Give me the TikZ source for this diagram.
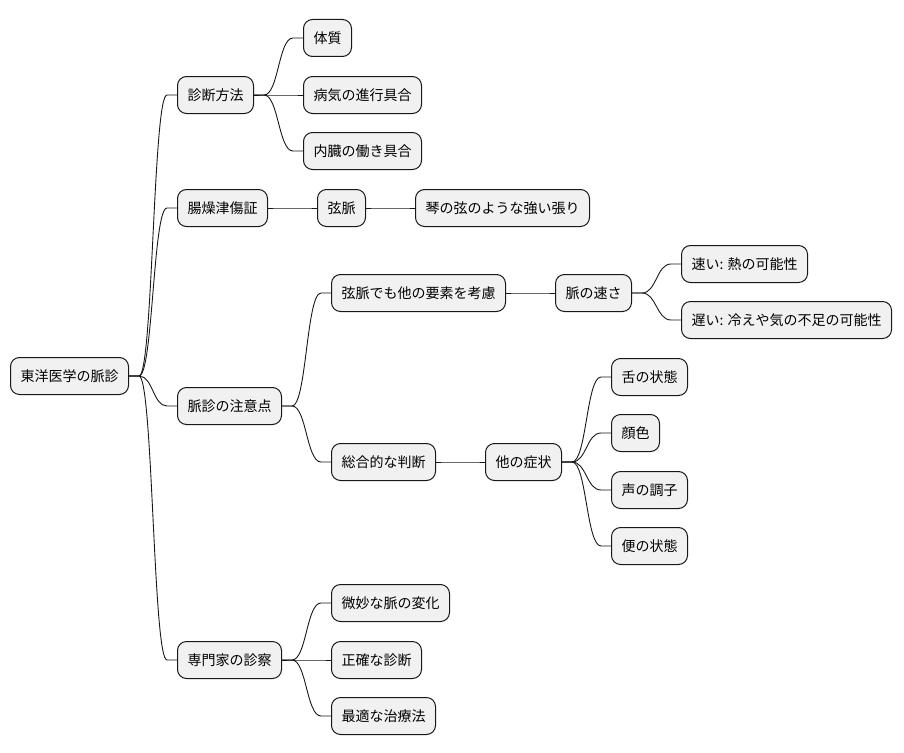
\documentclass[tikz,border=0pt]{standalone}
\usepackage{fontspec}
\setmainfont{Noto Sans CJK JP}
\usepackage{tikz}
\usetikzlibrary{calc}
\definecolor{boxFill}{HTML}{F1F1F1}
\definecolor{boxLine}{HTML}{181818}

\begin{document}
\begin{tikzpicture}[
        x=1pt, y=-1pt,
        topic/.style={draw=boxLine, fill=boxFill, line width=1pt, rounded corners=9pt,
          anchor=west, font=\fontsize{14}{16}\selectfont, inner xsep=10pt, inner ysep=0pt,
          minimum height=37pt},
        edge/.style={draw=boxLine, line width=0.9pt},
        branch/.style={to path={let \p1=(\tikztostart), \p2=(\tikztotarget) in
          .. controls ({0.5*\x1+0.5*\x2},\y1) and ({0.5*\x1+0.5*\x2},\y2) .. (\tikztotarget)}},
      ]
        \useasboundingbox (0,0) rectangle (904,752);

        % root
        \node[topic] (root) at (10,376) {東洋医学の脈診};

        % diagnosis method
        \node[topic] (shindan) at (177,95) {診断方法};
        \node[topic] (taishitsu) at (303,38) {体質};
        \node[topic] (byoki) at (303,95) {病気の進行具合};
        \node[topic] (naizo) at (303,151) {内臓の働き具合};

        % intestine dryness
        \node[topic] (chosou) at (177,208) {腸燥津傷証};
        \node[topic] (genmyaku) at (317,208) {弦脈};
        \node[topic] (koto) at (415,208) {琴の弦のような強い張り};

        % points of attention
        \node[topic] (chuui) at (177,406) {脈診の注意点};
        \node[topic] (kouryo) at (331,293) {弦脈でも他の要素を考慮};
        \node[topic] (hayasa) at (555,293) {脈の速さ};
        \node[topic] (hayai) at (681,264) {速い: 熱の可能性};
        \node[topic] (osoi) at (681,320) {遅い: 冷えや気の不足の可能性};
        \node[topic] (sougou) at (331,462) {総合的な判断};
        \node[topic] (shojo) at (485,462) {他の症状};
        \node[topic] (shita) at (611,377) {舌の状態};
        \node[topic] (ganshoku) at (611,433) {顔色};
        \node[topic] (koe) at (611,490) {声の調子};
        \node[topic] (ben) at (611,546) {便の状態};

        % specialist
        \node[topic] (senmon) at (177,660) {専門家の診察};
        \node[topic] (bimyo) at (331,603) {微妙な脈の変化};
        \node[topic] (seikaku) at (331,660) {正確な診断};
        \node[topic] (saiteki) at (331,716) {最適な治療法};

        % connectors
        \foreach \a/\b in {root/shindan, root/chosou, root/chuui, root/senmon,
            shindan/taishitsu, shindan/byoki, shindan/naizo,
            chosou/genmyaku, genmyaku/koto,
            chuui/kouryo, chuui/sougou, kouryo/hayasa, hayasa/hayai, hayasa/osoi,
            sougou/shojo, shojo/shita, shojo/ganshoku, shojo/koe, shojo/ben,
            senmon/bimyo, senmon/seikaku, senmon/saiteki}
          \draw[edge] (\a.east) -- ++(10,0) to[branch] ([xshift=-10pt]\b.west) -- (\b.west);
      \end{tikzpicture}
\end{document}
